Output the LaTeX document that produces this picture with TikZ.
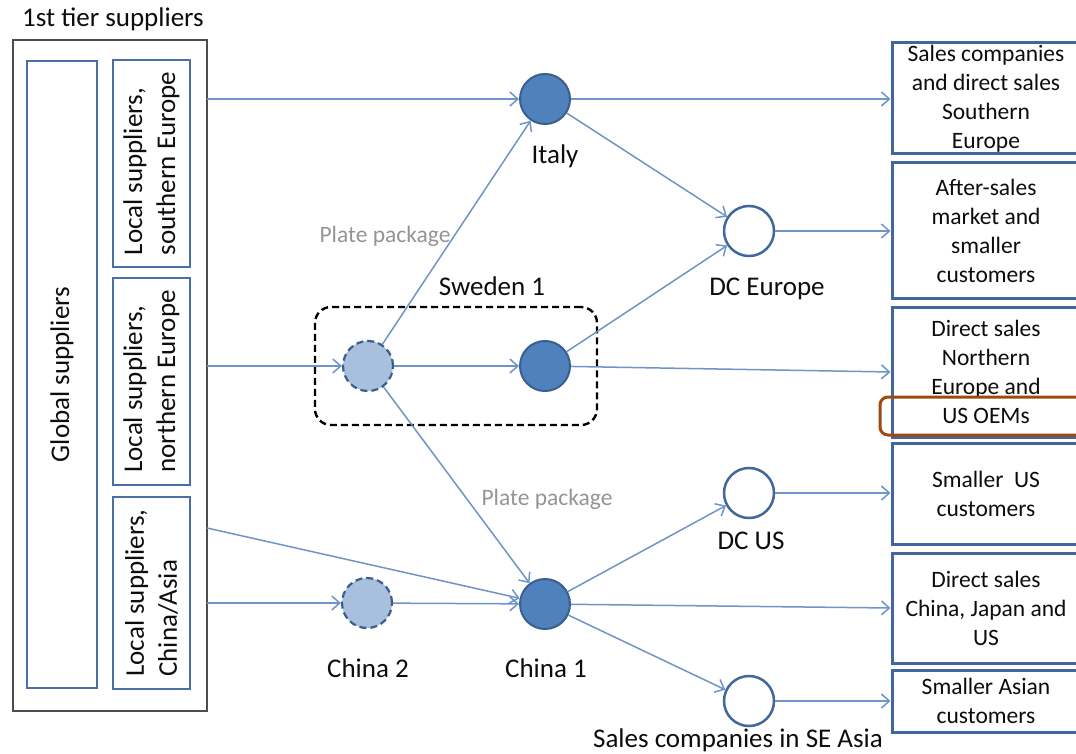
\documentclass[tikz,border=0pt]{standalone}
\usepackage{fontspec}
\setmainfont{Carlito}
\usetikzlibrary{arrows.meta}
\definecolor{ink}{HTML}{0D0D0D}
\definecolor{flowc}{HTML}{6F95C7}
\definecolor{hubedge}{HTML}{3A5F8F}
\definecolor{hubfill}{HTML}{4F81BD}
\definecolor{lightfill}{HTML}{A8C0DE}
\definecolor{dcedge}{HTML}{41689A}
\definecolor{boxblue}{HTML}{4A6FA5}
\definecolor{outblue}{HTML}{41679C}
\definecolor{framegray}{HTML}{4D4D4D}
\definecolor{mark}{HTML}{9C4A12}
\definecolor{note}{HTML}{959595}
\begin{document}
\begin{tikzpicture}[x=1pt,y=-1pt,
  bigtext/.style={font=\fontsize{27}{33}\selectfont, text=ink},
  smalltext/.style={font=\fontsize{23.5}{29}\selectfont, text=ink},
  notetext/.style={font=\fontsize{23.5}{29}\selectfont, text=note},
  leftbox/.style={draw=boxblue, line width=1.5pt, inner sep=0pt},
  hub/.style={circle, draw=hubedge, fill=hubfill, line width=2pt, minimum size=50pt, inner sep=0pt},
  prehub/.style={circle, draw=hubedge, fill=lightfill, line width=2.2pt, dash pattern=on 7pt off 4pt, minimum size=50pt, inner sep=0pt},
  dc/.style={circle, draw=dcedge, fill=white, line width=2.5pt, minimum size=50pt, inner sep=0pt},
  outbox/.style={draw=outblue, line width=3pt, minimum width=188pt, inner sep=0pt, align=center, smalltext},
  flow/.style={draw=flowc, line width=1.5pt, -{Straight Barb[length=8pt,width=14pt,line width=1.5pt]}}
]
\clip (0,0) rectangle (1076,754);
\fill[white] (0,0) rectangle (1076,754);

% supplier panel
\node[bigtext, anchor=base] (title) at (113,27) {1st tier suppliers};
\node[draw=framegray, line width=1.7pt, minimum width=194pt, minimum height=671pt, inner sep=0pt] (outer) at (110,375.5) {};
\node[leftbox, minimum width=70pt, minimum height=627pt] (glob) at (62,374.5) {};
\node[bigtext, rotate=90] at (glob.center) {Global suppliers};
\node[leftbox, minimum width=77pt, minimum height=207pt] (lse) at (151.5,163.5) {};
\node[bigtext, rotate=90, align=left] at (lse.center) {Local suppliers,\\southern Europe};
\node[leftbox, minimum width=77pt, minimum height=207pt] (lne) at (151.5,381.5) {};
\node[bigtext, rotate=90, align=left] at (lne.center) {Local suppliers,\\northern Europe};
\node[leftbox, minimum width=77pt, minimum height=192pt] (lca) at (151.5,593) {};
\node[bigtext, rotate=90, align=left] at (lca.center) {Local suppliers,\\China/Asia};

\coordinate (o1) at (207,99);
\coordinate (o2) at (207,366);
\coordinate (o3) at (207,603);
\coordinate (o4) at (207,528);

% Sweden 1 site
\node[draw=black, line width=2.4pt, dash pattern=on 7pt off 4pt, rounded corners=16pt,
      minimum width=282pt, minimum height=118pt] (swbox) at (456,366) {};

% production and distribution sites
\node[hub] (italy) at (545,99) {};
\node[prehub] (swa) at (368,366) {};
\node[hub] (swb) at (545,366) {};
\node[prehub] (cn2) at (367,603) {};
\node[hub] (cn1) at (545,604) {};
\node[dc] (dce) at (749,231) {};
\node[dc] (dcus) at (749,493) {};
\node[dc] (sea) at (749,701) {};

\node[bigtext, anchor=base] at (555,164) {Italy};
\node[bigtext, anchor=base] at (492,295) {Sweden 1};
\node[bigtext, anchor=base] at (767,295) {DC Europe};
\node[bigtext, anchor=base] at (751,549) {DC US};
\node[bigtext, anchor=base] at (368,677) {China 2};
\node[bigtext, anchor=base] at (546,677) {China 1};
\node[bigtext, anchor=base] at (738,747) {Sales companies in SE Asia};
\node[notetext, anchor=base] at (385,242) {Plate package};
\node[notetext, anchor=base] at (547,505) {Plate package};

% customer groups
\node[outbox, minimum height=111pt] (b1) at (986,98.5) {Sales companies\\and direct sales\\Southern\\Europe};
\node[outbox, minimum height=135pt] (b2) at (986,230.5) {After-sales\\market and\\smaller\\customers};
\node[outbox, minimum height=130pt] (b3) at (986,372) {Direct sales\\Northern\\Europe and\\US OEMs};
\node[outbox, minimum height=101pt] (b4) at (986,493.5) {Smaller\ \ US\\customers};
\node[outbox, minimum height=110pt] (b5) at (986,608) {Direct sales\\China, Japan and\\US};
\node[outbox, minimum height=62pt] (b6) at (986,701) {Smaller Asian\\customers};

% highlight
\node[draw=mark, line width=3pt, rounded corners=8pt, minimum width=214pt, minimum height=38pt, inner sep=0pt] (hl) at (987,416) {};

% flows
\draw[flow] (o1) -- (italy);
\draw[flow] (o2) -- (swa);
\draw[flow] (o3) -- (cn2);
\draw[flow] (o4) -- (cn1);
\draw[flow] (swa) -- (italy);
\draw[flow] (swa) -- (swb);
\draw[flow] (swa) -- (cn1);
\draw[flow] (cn2) -- (cn1);
\draw[flow] (italy) -- (b1.west |- italy);
\draw[flow] (italy) -- (dce);
\draw[flow] (swb) -- (dce);
\draw[flow] (swb) -- (b3.west);
\draw[flow] (dce) -- (b2.west |- dce);
\draw[flow] (cn1) -- (dcus);
\draw[flow] (cn1) -- (b5.west);
\draw[flow] (cn1) -- (sea);
\draw[flow] (dcus) -- (b4.west |- dcus);
\draw[flow] (sea) -- (b6.west |- sea);
\end{tikzpicture}
\end{document}
